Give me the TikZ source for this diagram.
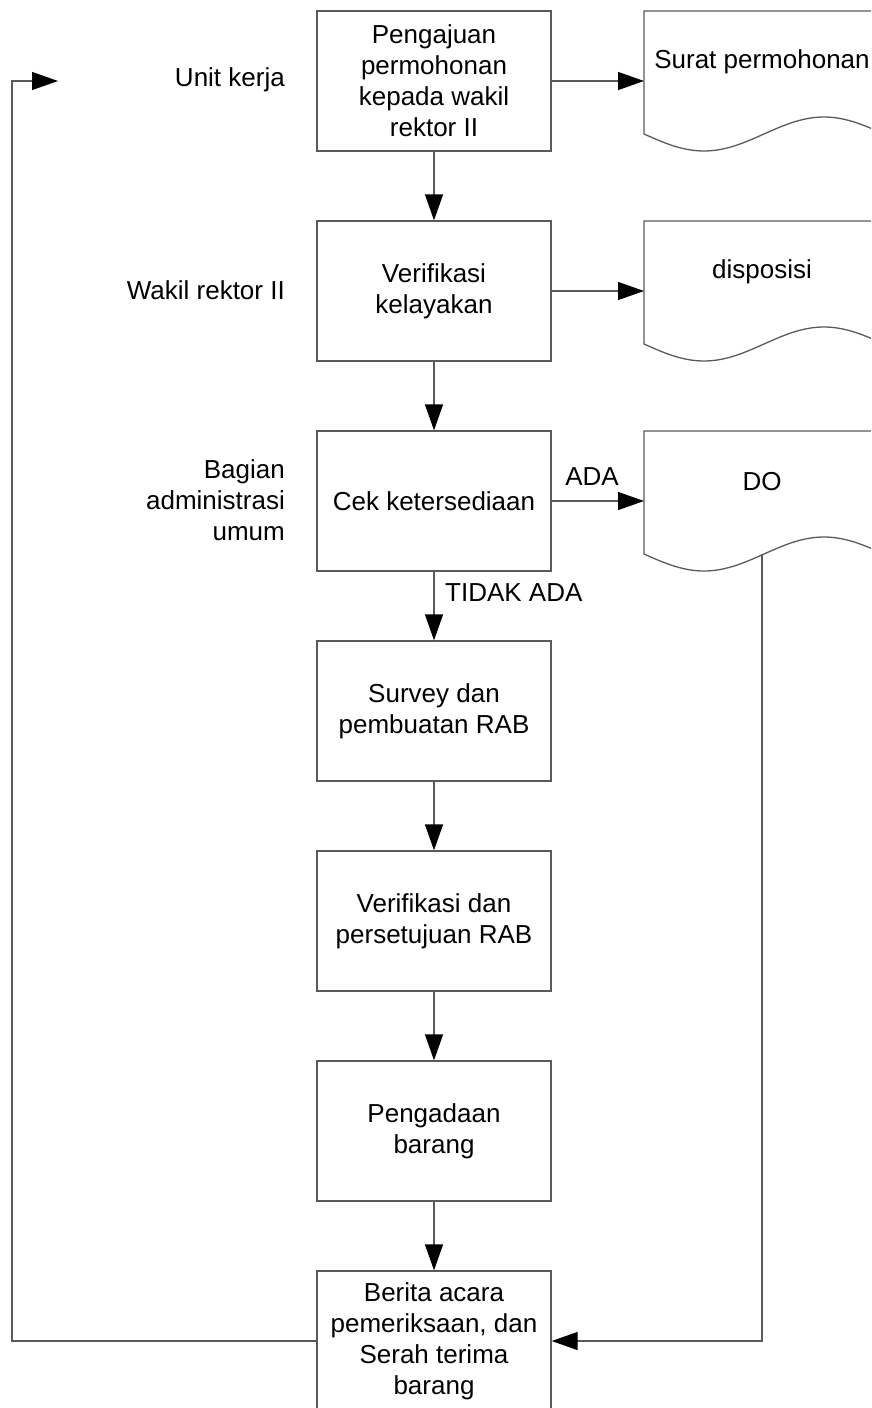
\documentclass[tikz,border=0pt]{standalone}
\usepackage{fontspec}
\setmainfont{Liberation Sans}
\usetikzlibrary{arrows.meta}
\definecolor{linegray}{RGB}{90,90,90}

% Document symbol: flat top, wavy bottom, label and entry point
\newcommand\flowdoc[3]{%
  \draw[line, fill=white] (644,#2) -- (884,#2) -- (884,#2+123)
    -- plot[variable=\t, domain=240:0, samples=81] ({644+\t}, {#2+123+17*sin(1.5*\t)})
    -- cycle;
  \node[txt] (#1-text) at (762,#2+51) {#3};
  \coordinate (#1-in) at (644,#2+70);
}

\begin{document}
\begin{tikzpicture}[x=1pt,y=-1pt,
  line/.style={draw=linegray, line width=1.3pt},
  flow/.style={line, -{Triangle[length=26pt,width=18pt,color=black]}},
  procbox/.style={line, rectangle, minimum width=234pt, minimum height=140pt,
    inner sep=2pt, align=center, font=\fontsize{26}{31}\selectfont},
  lbl/.style={align=right, anchor=east, inner sep=0pt, font=\fontsize{26}{31}\selectfont},
  txt/.style={inner sep=0pt, font=\fontsize{26}{31}\selectfont}]

\clip (0,0) rectangle (871,1408);

% process boxes
\node[procbox] (b1) at (434,81)   {Pengajuan\\permohonan\\kepada wakil\\rektor II};
\node[procbox] (b2) at (434,291)  {Verifikasi\\kelayakan};
\node[procbox] (b3) at (434,501)  {Cek ketersediaan};
\node[procbox] (b4) at (434,711)  {Survey dan\\pembuatan RAB};
\node[procbox] (b5) at (434,921)  {Verifikasi dan\\persetujuan RAB};
\node[procbox] (b6) at (434,1131) {Pengadaan\\barang};
\node[procbox] (b7) at (434,1341) {Berita acara\\pemeriksaan, dan\\Serah terima\\barang};

% role labels
\node[lbl] (l1) at (285,80)  {Unit kerja};
\node[lbl] (l2) at (285,290) {Wakil rektor II};
\node[lbl] (l3) at (285,500) {Bagian\\administrasi\\umum};

% documents
\flowdoc{d1}{11}{Surat permohonan}
\flowdoc{d2}{221}{disposisi}
\flowdoc{d3}{431}{DO}
\coordinate (d3-out) at (762,554);

% main flow
\draw[flow] (b1) -- (b2);
\draw[flow] (b2) -- (b3);
\draw[flow] (b3) -- (b4);
\draw[flow] (b4) -- (b5);
\draw[flow] (b5) -- (b6);
\draw[flow] (b6) -- (b7);

% to documents
\draw[flow] (b1.east) -- (d1-in);
\draw[flow] (b2.east) -- (d2-in);
\draw[flow] (b3.east) -- (d3-in);
\node[txt] (ada) at (592,477) {ADA};
\node[txt, anchor=west] (tidak) at (445,593) {TIDAK ADA};

% DO straight to handover
\draw[flow] (d3-out) |- (b7.east);

% return loop to the unit
\coordinate (lc) at (12,81);
\coordinate (ret) at (58,81);
\draw[flow] (b7.west) -| (lc) -- (ret);
\end{tikzpicture}
\end{document}
